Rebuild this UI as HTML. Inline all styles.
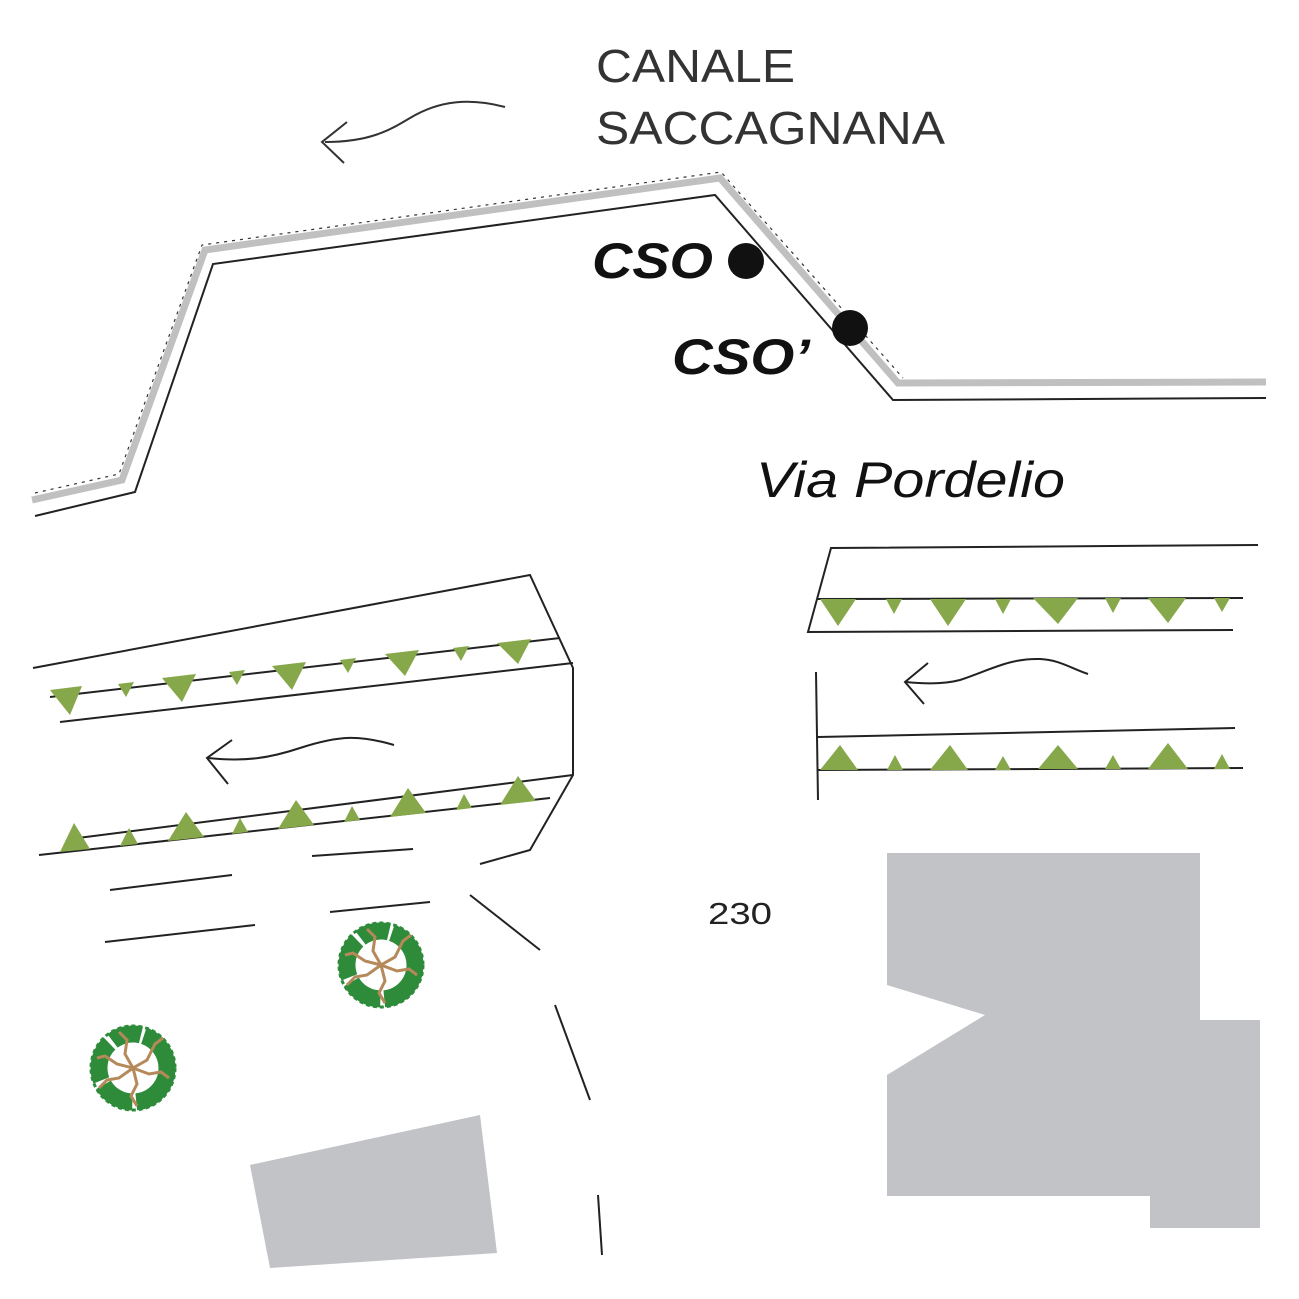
<!DOCTYPE html>
<html><head><meta charset="utf-8"><style>
html,body{margin:0;padding:0;background:#fff}
svg{display:block}
text{font-family:"Liberation Sans",sans-serif}
</style></head><body>
<svg width="1299" height="1299" viewBox="0 0 1299 1299" xmlns="http://www.w3.org/2000/svg">
<defs>
<g id="tree">
  <circle r="34" fill="none" stroke="#2e8b3a" stroke-width="17" stroke-dasharray="50 4 35 5 40 4 30 3"/>
  <circle r="42" fill="none" stroke="#2e8b3a" stroke-width="3" stroke-dasharray="4 3"/>
  <g stroke="#b5895a" stroke-width="3" fill="none">
    <path d="M0 0 L-8 -14 L-6 -28 L-14 -36"/>
    <path d="M0 0 L14 -8 L22 -24 L30 -30"/>
    <path d="M0 0 L16 6 L28 4 L36 10"/>
    <path d="M0 0 L4 16 L-2 28 L4 38"/>
    <path d="M0 0 L-14 10 L-26 12 L-34 20"/>
    <path d="M0 0 L-16 -4 L-28 -12 L-36 -10"/>
  </g>
</g>
</defs>

<!-- canal -->
<polyline points="32,500 122,480 205,250 720,178 898,383 1266,382" fill="none" stroke="#c0c0c0" stroke-width="7"/>
<polyline points="35,493 119,474 202,245 721,172 903,378" fill="none" stroke="#333" stroke-width="1.2" stroke-dasharray="3 5"/>
<polyline points="35,516 135,492 213,264 715,195 893,400 1266,398" fill="none" stroke="#222" stroke-width="2"/>

<text x="596" y="82" font-size="46" fill="#333" textLength="199" lengthAdjust="spacingAndGlyphs">CANALE</text>
<text x="596" y="144" font-size="46" fill="#333" textLength="349" lengthAdjust="spacingAndGlyphs">SACCAGNANA</text>
<path d="M505 107 C470 98 440 100 410 118 C390 130 370 142 325 142" fill="none" stroke="#333" stroke-width="2"/>
<path d="M347 122 L322 142 L344 163" fill="none" stroke="#333" stroke-width="2"/>

<text x="592" y="278" font-size="50" font-weight="bold" font-style="italic" fill="#111" textLength="121" lengthAdjust="spacingAndGlyphs">CSO</text>
<circle cx="746" cy="261" r="18" fill="#111"/>
<text x="672" y="374" font-size="50" font-weight="bold" font-style="italic" fill="#111" textLength="138" lengthAdjust="spacingAndGlyphs">CSO’</text>
<circle cx="850" cy="328" r="18" fill="#111"/>

<text x="756" y="497" font-size="50" font-style="italic" fill="#111" textLength="309" lengthAdjust="spacingAndGlyphs">Via Pordelio</text>

<!-- left road -->
<g fill="none" stroke="#222" stroke-width="2">
<polyline points="33,668 530,575 573,668 573,775 530,850 480,864"/>
<line x1="50" y1="697" x2="560" y2="638"/>
<line x1="60" y1="722" x2="573" y2="663"/>
<line x1="78" y1="838" x2="573" y2="775"/>
<line x1="39" y1="855" x2="550" y2="798"/>
<line x1="312" y1="856" x2="413" y2="849"/>
<line x1="110" y1="890" x2="232" y2="875"/>
<line x1="105" y1="942" x2="255" y2="925"/>
<line x1="330" y1="912" x2="430" y2="902"/>
<line x1="470" y1="895" x2="540" y2="950"/>
<line x1="555" y1="1005" x2="590" y2="1100"/>
<line x1="598" y1="1195" x2="602" y2="1255"/>
<path d="M394 745 C360 735 340 735 300 748 C270 758 245 762 208 758"/>
<path d="M232 740 L207 758 L228 784"/>
</g>
<g fill="#86a84a">
<polygon points="50,690 82,686 70,715"/>
<polygon points="118,684 134,682 126,697"/>
<polygon points="162,678 196,674 182,702"/>
<polygon points="229,672 245,670 237,685"/>
<polygon points="272,666 306,662 292,690"/>
<polygon points="340,660 356,658 348,673"/>
<polygon points="385,654 419,650 405,676"/>
<polygon points="453,648 469,646 461,661"/>
<polygon points="497,643 531,639 518,664"/>
<polygon points="60,852 90,849 74,823"/>
<polygon points="120,846 138,844 129,828"/>
<polygon points="168,841 204,837 186,812"/>
<polygon points="232,834 248,832 240,818"/>
<polygon points="278,829 314,825 296,800"/>
<polygon points="344,822 360,820 352,806"/>
<polygon points="390,817 426,813 408,788"/>
<polygon points="456,810 472,808 464,794"/>
<polygon points="500,805 536,801 518,776"/>
</g>

<!-- right road -->
<g fill="none" stroke="#222" stroke-width="2">
<polyline points="1258,545 831,548 808,632 1233,630"/>
<line x1="818" y1="599" x2="1243" y2="598"/>
<line x1="816" y1="672" x2="818" y2="800"/>
<line x1="818" y1="737" x2="1235" y2="728"/>
<line x1="818" y1="770" x2="1243" y2="768"/>
<path d="M1088 674 C1070 668 1060 660 1040 659 C1010 658 990 670 960 680 C945 684 925 684 906 682"/>
<path d="M928 663 L905 682 L924 704"/>
</g>
<g fill="#86a84a">
<polygon points="820,599 856,599 838,626"/>
<polygon points="886,599 902,599 894,614"/>
<polygon points="930,599 966,599 948,626"/>
<polygon points="995,599 1011,599 1003,614"/>
<polygon points="1033,598 1078,598 1058,624"/>
<polygon points="1105,598 1121,598 1113,613"/>
<polygon points="1148,598 1186,598 1168,623"/>
<polygon points="1214,598 1230,598 1222,612"/>
<polygon points="820,770 858,770 840,745"/>
<polygon points="887,770 903,770 895,755"/>
<polygon points="930,770 968,770 950,745"/>
<polygon points="995,770 1011,770 1003,756"/>
<polygon points="1038,769 1078,769 1058,745"/>
<polygon points="1105,769 1121,769 1113,755"/>
<polygon points="1148,769 1188,769 1168,743"/>
<polygon points="1214,769 1230,769 1222,754"/>
</g>

<text x="708" y="924" font-size="31" fill="#222" textLength="64" lengthAdjust="spacingAndGlyphs">230</text>

<!-- buildings -->
<polygon points="887,853 1200,853 1200,1020 1260,1020 1260,1228 1150,1228 1150,1196 887,1196 887,1075 985,1015 887,985" fill="#c1c3c7"/>
<polygon points="250,1165 480,1115 497,1253 270,1268" fill="#c1c3c7"/>

<use href="#tree" x="381" y="965"/>
<use href="#tree" x="133" y="1068"/>
</svg>
</body></html>
